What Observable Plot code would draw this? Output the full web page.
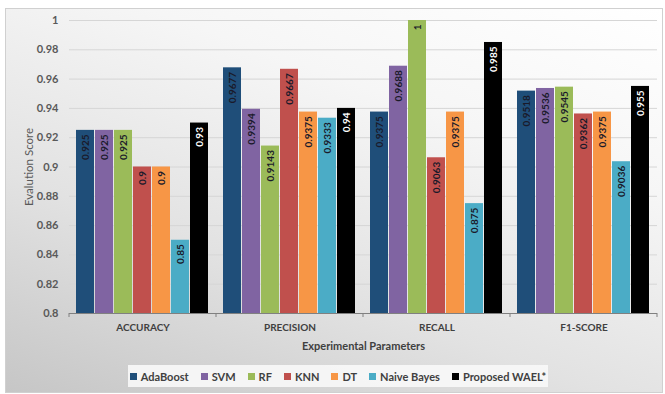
<!DOCTYPE html>
<html>
<head>
<meta charset="utf-8">
<script src="https://cdn.jsdelivr.net/npm/d3@7"></script>
<script src="https://cdn.jsdelivr.net/npm/@observablehq/plot@0.6"></script>
<style>
  html, body { margin: 0; padding: 0; background: #ffffff; }
  #wrap { position: relative; width: 665px; height: 394px; overflow: hidden; font-family: Lato, "Open Sans", sans-serif; }
  #bg { position: absolute; left: 5px; top: 8px; right: 2px; bottom: 1px;
        background: linear-gradient(200deg, #ffffff 0%, #f6f6f6 30%, #e2e2e2 65%, #c6c6c6 100%);
        border: 1px solid #d0d0d0; }
  #chart { position: absolute; left: 0; top: 0; }
  #legend { position: absolute; left: 128px; top: 365px; width: 420px; height: 22px;
            background: rgba(248,248,248,0.9); display: flex; align-items: center; justify-content: center;
            gap: 12px; font-weight: 700; font-size: 11px; color: #404040; }
  #legend .item { display: flex; align-items: center; gap: 4px; white-space: nowrap; }
  #legend .sw { width: 7px; height: 7px; display: inline-block; }
</style>
</head>
<body>
<div id="wrap">
  <div id="bg"></div>
  <div id="chart"></div>
  <div id="legend"></div>
</div>
<script>
const params = ["ACCURACY", "PRECISION", "RECALL", "F1-SCORE"];
const models = ["AdaBoost", "SVM", "RF", "KNN", "DT", "Naive Bayes", "Proposed WAEL*"];
const colors = ["#1F4E79", "#8064A2", "#9BBB59", "#C0504D", "#F79646", "#4BACC6", "#000000"];
const accuracy  = [0.925, 0.925, 0.925, 0.9, 0.9, 0.85, 0.93];
const precision = [0.9677, 0.9394, 0.9143, 0.9667, 0.9375, 0.9333, 0.94];
const recall    = [0.9375, 0.9688, 1, 0.9063, 0.9375, 0.875, 0.985];
const f1score   = [0.9518, 0.9536, 0.9545, 0.9362, 0.9375, 0.9036, 0.955];
const yTicks = [0.8, 0.82, 0.84, 0.86, 0.88, 0.9, 0.92, 0.94, 0.96, 0.98, 1];
const yTickLabels = ["0.8", "0.82", "0.84", "0.86", "0.88", "0.9", "0.92", "0.94", "0.96", "0.98", "1"];

const series = [accuracy, precision, recall, f1score];
const data = [];
params.forEach((p, i) => models.forEach((m, j) => data.push({param: p, model: m, value: series[i][j]})));

const font = "Lato, 'Open Sans', sans-serif";

const plot = Plot.plot({
  width: 665,
  height: 360,
  marginTop: 20,
  marginBottom: 47,
  marginLeft: 68,
  marginRight: 7,
  style: {background: "transparent", fontFamily: font, fontWeight: "700", fontSize: "11px", color: "#595959"},
  fx: {domain: params, padding: 0, axis: "bottom", tickSize: 0, tickPadding: 10,
       label: "Experimental Parameters", labelAnchor: "center", labelOffset: 36},
  x: {domain: models, axis: null, paddingInner: 0.04, paddingOuter: 0.33},
  y: {domain: [0.8, 1], ticks: yTicks, tickFormat: (d) => yTickLabels[yTicks.indexOf(d)],
      tickSize: 0, tickPadding: 11, label: "Evalution Score", labelAnchor: "center", labelOffset: 45},
  color: {domain: models, range: colors},
  marks: [
    Plot.ruleY(yTicks.slice(1), {stroke: "#d6d6d6", strokeWidth: 1}),
    Plot.barY(data, {fx: "param", x: "model", y1: 0.8, y2: "value", fill: "model"}),
    Plot.text(data, {fx: "param", x: "model", y: "value", text: d => String(d.value),
      rotate: -90, textAnchor: "end", lineAnchor: "middle", dy: 4,
      fill: d => d.model === "Proposed WAEL*" ? "white" : "#1a1a2a",
      fontSize: 10, fontWeight: "bold"}),
    Plot.ruleY([0.8], {stroke: "#808080", strokeWidth: 1})
  ]
});

document.getElementById("chart").appendChild(plot);

const svg = d3.select(plot);
// remove the label arrow, set weights of axis texts
svg.selectAll("text").each(function() {
  const t = d3.select(this);
  const s = t.text();
  if (s.includes("Evalution Score")) {
    t.text("Evalution Score").attr("font-weight", "normal").attr("fill", "#595959").attr("font-size", "11.5px");
  }
});
svg.selectAll("g[aria-label='fx-axis tick label']")
  .attr("font-size", "10px").attr("fill", "#404040");
svg.selectAll("[aria-label='fx-axis label']").attr("fill", "#404040");

// boundary tick marks on the category axis, from the fx scale
const fx = plot.scale("fx");
const ys = plot.scale("y");
const y0 = ys.apply(0.8);
const edges = params.map(p => fx.apply(p));
edges.push(fx.apply(params[params.length - 1]) + fx.bandwidth);
svg.append("g").attr("stroke", "#808080").selectAll("line").data(edges).join("line")
  .attr("x1", d => d).attr("x2", d => d).attr("y1", y0).attr("y2", y0 + 4);

// legend
const legend = d3.select("#legend");
models.forEach((m, i) => {
  const it = legend.append("span").attr("class", "item");
  it.append("span").attr("class", "sw").style("background", colors[i]);
  it.append("span").text(m);
});
</script>
</body>
</html>
